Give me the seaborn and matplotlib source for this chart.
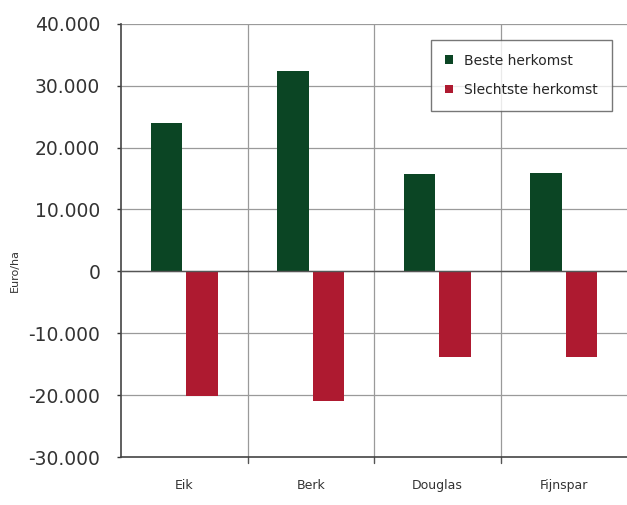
import matplotlib

matplotlib.use("Agg")

import matplotlib.pyplot as plt
import pandas as pd
import seaborn as sns
from matplotlib.ticker import FuncFormatter

SOORTEN = ["Eik", "Berk", "Douglas", "Fijnspar"]
BESTE = [24000, 32400, 15800, 15900]
SLECHTSTE = [-20200, -21000, -13900, -13900]
SERIES = ["Beste herkomst", "Slechtste herkomst"]
Y_TICKS = [-30000, -20000, -10000, 0, 10000, 20000, 30000, 40000]

GREEN = "#0b4524"
RED = "#ae1a30"


def _dutch_thousands(value, _pos):
    if value == 0:
        return "0"
    text = f"{abs(value):,.0f}".replace(",", ".")
    return f"-{text}" if value < 0 else text


frame = pd.DataFrame(
    {
        "Soort": SOORTEN * 2,
        "Herkomst": [SERIES[0]] * len(SOORTEN) + [SERIES[1]] * len(SOORTEN),
        "Euro/ha": BESTE + SLECHTSTE,
    }
)

sns.set_theme(style="white")
plt.rcParams["font.family"] = ["DejaVu Sans"]

fig = plt.figure(figsize=(6.27, 5.05), dpi=100)
ax = fig.add_axes([0.193, 0.095, 0.807, 0.858])

sns.barplot(
    data=frame,
    x="Soort",
    y="Euro/ha",
    hue="Herkomst",
    palette=[GREEN, RED],
    width=0.56,
    gap=0.1,
    saturation=1,
    linewidth=0,
    ax=ax,
    zorder=3,
)

ax.set_xlim(-0.5, 3.5)
ax.set_ylim(-30000, 40000)
ax.set_yticks(Y_TICKS)
ax.yaxis.set_major_formatter(FuncFormatter(_dutch_thousands))
ax.tick_params(axis="y", labelsize=13.5, colors="#333333", length=3, width=1, left=True, pad=12)
ax.tick_params(axis="x", labelsize=9, colors="#333333", length=0, pad=16)

for value in Y_TICKS[1:]:
    ax.axhline(value, color="#9a9a9a", linewidth=0.9, zorder=1)
for boundary in [0.5, 1.5, 2.5]:
    ax.axvline(boundary, color="#9a9a9a", linewidth=0.9, zorder=1)
    ax.plot([boundary, boundary], [-30000, -31000], color="#555555", linewidth=1, clip_on=False)
ax.axhline(0, color="#555555", linewidth=1, zorder=4)

for side in ["top", "right"]:
    ax.spines[side].set_visible(False)
for side in ["left", "bottom"]:
    ax.spines[side].set_color("#444444")
    ax.spines[side].set_linewidth(1.2)

ax.set_xlabel("")
ax.set_ylabel("Euro/ha", fontsize=8, color="#333333")
ax.yaxis.set_label_coords(-0.2, 0.43)

legend = ax.legend(
    loc="upper right",
    bbox_to_anchor=(0.97, 0.963),
    fontsize=10,
    frameon=True,
    fancybox=False,
    edgecolor="#555555",
    handlelength=0.6,
    handleheight=0.6,
    handletextpad=0.8,
    borderpad=1.0,
    borderaxespad=0,
    labelspacing=1.1,
)
legend.get_frame().set_linewidth(1)

fig.savefig("out.png", dpi=100)
plt.close(fig)
